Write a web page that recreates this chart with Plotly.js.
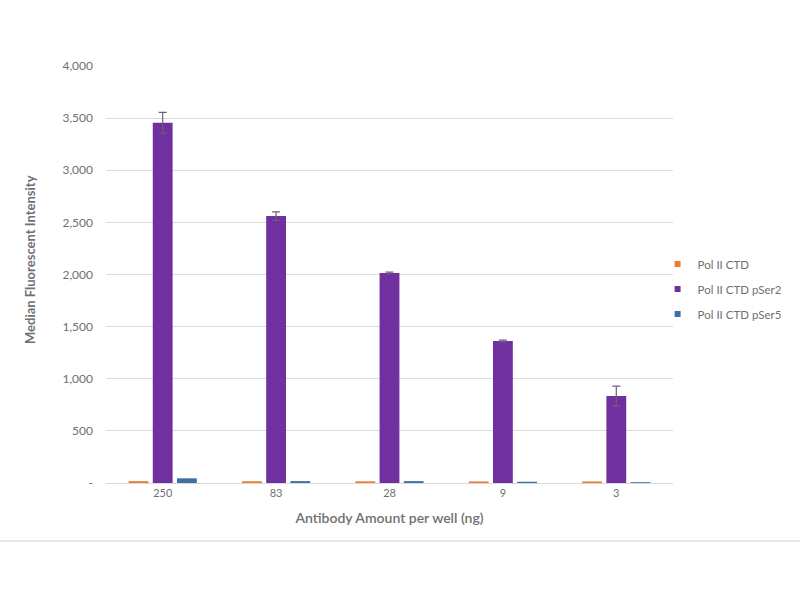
<!DOCTYPE html>
<html>
<head>
<meta charset="utf-8">
<script src="https://cdn.plot.ly/plotly-3.0.1.min.js"></script>
<style>html,body{margin:0;padding:0;background:#fff;}#chart{width:800px;height:600px;}</style>
</head>
<body>
<div id="chart"></div>
<script>
const categories = ["250", "83", "28", "9", "3"];
const polIICTD = [18, 17, 16, 15, 15];
const polIICTDpSer2 = [3455, 2560, 2015, 1362, 835];
const polIICTDpSer2Err = [100, 40, 8, 8, 95];
const polIICTDpSer5 = [45, 18, 18, 12, 8];
const seriesNames = ["Pol II CTD", "Pol II CTD pSer2", "Pol II CTD pSer5"];
const seriesColors = ["#ED7D31", "#7030A0", "#3E6FA6"];
const yTickVals = [0, 500, 1000, 1500, 2000, 2500, 3000, 3500, 4000];
const yTickText = ["-", "500", "1,000", "1,500", "2,000", "2,500", "3,000", "3,500", "4,000"];
const xTitle = "Antibody Amount per well (ng)";
const yTitle = "Median Fluorescent Intensity";

const gray = "#707070";
const font = "Lato, 'Open Sans', sans-serif";

const traces = [
  {type: "bar", name: seriesNames[0], x: categories, y: polIICTD, marker: {color: seriesColors[0]}, showlegend: false},
  {type: "bar", name: seriesNames[1], x: categories, y: polIICTDpSer2, marker: {color: seriesColors[1]}, showlegend: false,
   error_y: {type: "data", array: polIICTDpSer2Err, symmetric: true, color: "#6e5c7e", thickness: 1.2, width: 4}},
  {type: "bar", name: seriesNames[2], x: categories, y: polIICTDpSer5, marker: {color: seriesColors[2]}, showlegend: false}
];
// legend entries (small square swatches, Excel-style)
seriesNames.forEach((n, i) => {
  traces.push({type: "scatter", mode: "markers", name: n, x: [null], y: [null],
    marker: {symbol: "square", size: 6, color: seriesColors[i]}, legendgroup: "g" + i});
});

const layout = {
  width: 800, height: 600,
  margin: {l: 106, r: 127, t: 66, b: 117, autoexpand: false},
  paper_bgcolor: "#fff", plot_bgcolor: "#fff",
  barmode: "group", bargap: 0.36, bargroupgap: 0.18,
  font: {family: font, color: gray, size: 11},
  showlegend: true,
  legend: {xref: "container", x: 0.822, xanchor: "left", y: 0.584, yref: "container", yanchor: "top",
           font: {size: 11.5, color: gray, family: font},
           tracegroupgap: 6, bgcolor: "rgba(0,0,0,0)", itemwidth: 30},
  xaxis: {
    type: "category",
    title: {text: xTitle, font: {size: 14, color: gray, family: font, weight: 600}, standoff: 14},
    tickfont: {size: 11, color: gray},
    showline: true, linecolor: "#d9d9d9", linewidth: 1,
    ticks: "", showgrid: false, range: [-0.5, 4.5]
  },
  yaxis: {
    range: [0, 4000], tickvals: yTickVals, ticktext: yTickText,
    tickfont: {size: 12, color: gray}, ticklabelstandoff: 12,
    showgrid: true, gridcolor: "#dcdcdc", gridwidth: 1,
    zeroline: false, showline: false, ticks: ""
  },
  annotations: [
    {text: yTitle, textangle: -90, xref: "paper", yref: "paper",
     x: (30 - 106) / 567, y: (483 - 260) / 417, xanchor: "center", yanchor: "middle", showarrow: false,
     font: {size: 13, color: gray, family: font, weight: 700}}
  ],
  shapes: [
    {type: "line", xref: "paper", yref: "paper", x0: -0.187, x1: 1.224, y0: -0.139, y1: -0.139,
     line: {color: "#d0d0d0", width: 1}}
  ]
};

Plotly.newPlot("chart", traces, layout, {displayModeBar: false, staticPlot: true});
</script>
</body>
</html>
